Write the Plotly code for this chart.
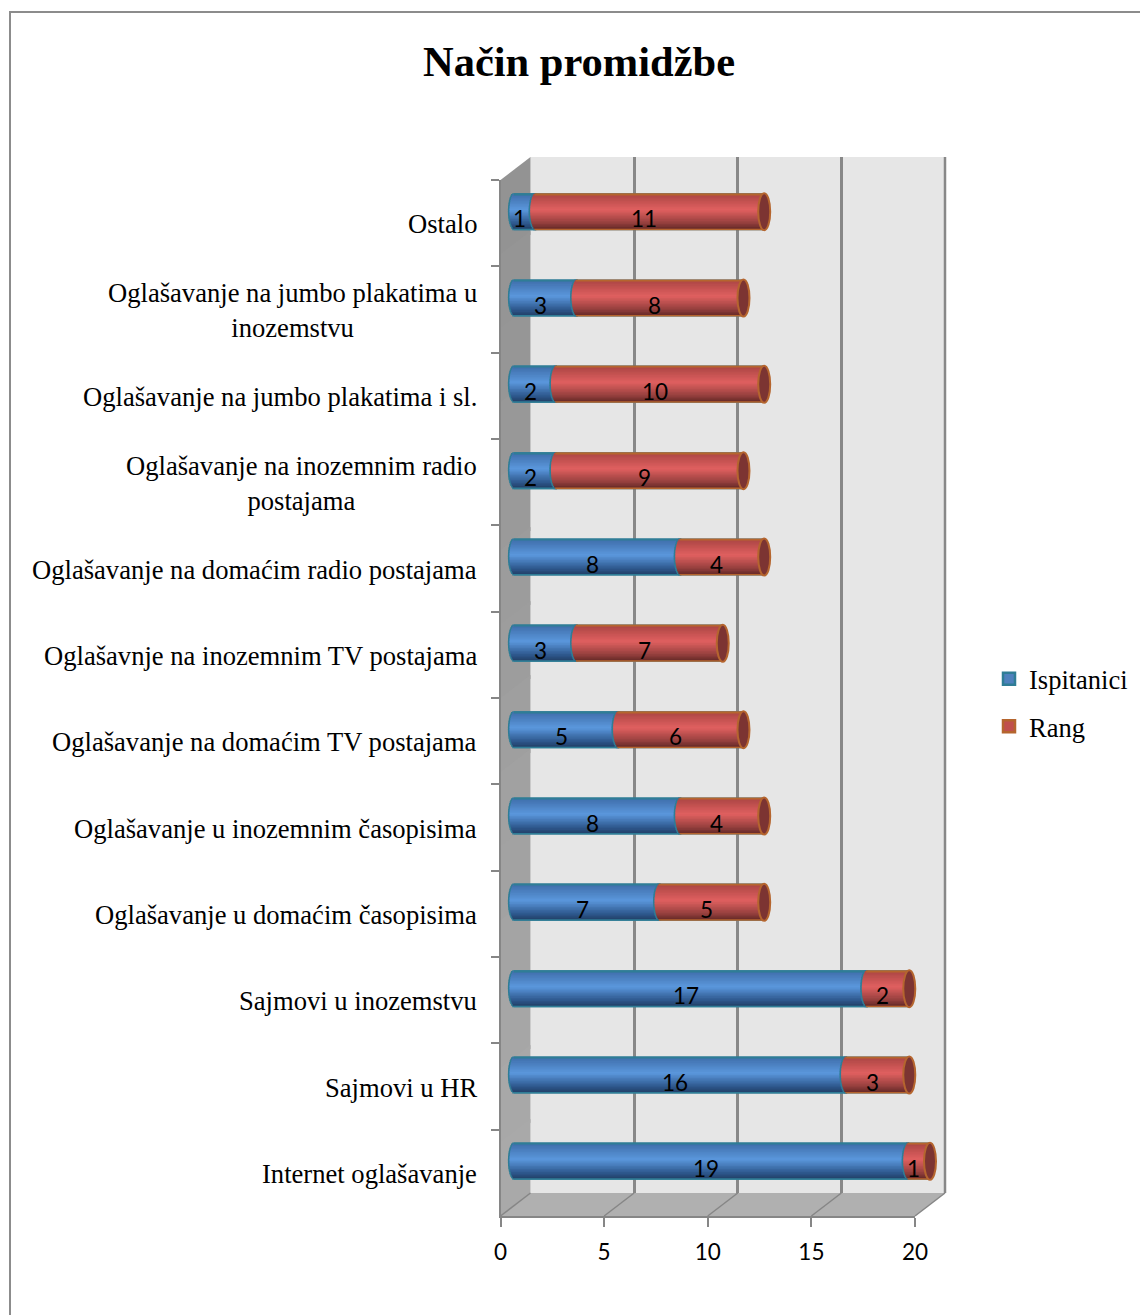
import plotly.graph_objects as go

categories = ["Internet oglašavanje", "Sajmovi u HR", "Sajmovi u inozemstvu",
              "Oglašavanje u domaćim časopisima", "Oglašavanje u inozemnim časopisima",
              "Oglašavanje na domaćim TV postajama", "Oglašavnje na inozemnim TV postajama",
              "Oglašavanje na domaćim radio postajama", "Oglašavanje na inozemnim radio<br>postajama",
              "Oglašavanje na jumbo plakatima i sl.", "Oglašavanje na jumbo plakatima u<br>inozemstvu",
              "Ostalo"]
ispitanici = [19, 16, 17, 7, 8, 5, 3, 8, 2, 2, 3, 1]
rang = [1, 3, 2, 5, 4, 6, 7, 4, 9, 10, 8, 11]
x_ticks = [0, 5, 10, 15, 20]

W, H = 1140, 1315
SERIF = "Liberation Serif"
SANS = "Lato"
AX_L, AX_R, AX_T, AX_B = 500.5, 915.0, 180.0, 1216.0
WALL_DX, WALL_DY = 30.0, -23.0
BAR_DX, BAR_DY = 15.0, -11.5
PX = (AX_R - AX_L) / 20
STEP = (AX_B - AX_T) / 12
BAR_H = 37 / STEP
CAP = 6 / PX
OUT = 1.6 / PX
N = 24
PAD = 2  # spare axis units round the bars so the rounded ends are not clipped
AXIS_GREY = "#868686"


def px(v):
    return v / W


def py(v):
    return 1 - v / H


def lerp(stops, t):
    for (a, ca), (b, cb) in zip(stops, stops[1:]):
        if t <= b:
            f = (t - a) / (b - a)
            c = [int(round(int(ca[i:i + 2], 16) * (1 - f) + int(cb[i:i + 2], 16) * f)) for i in (1, 3, 5)]
            return "#%02x%02x%02x" % tuple(c)
    return stops[-1][1]


BLUE = [(0, "#1f3a5f"), (0.2, "#2f5a90"), (0.55, "#5b97dc"), (1, "#3d6ca8")]
RED = [(0, "#5c2423"), (0.2, "#96403e"), (0.55, "#e06060"), (1, "#a84442")]
TEAL = "#2f7d96"
ORANGE = "#b5652e"

fig = go.Figure()

# empty traces so both helper subplots exist
fig.add_trace(go.Scatter(x=[], y=[], xaxis="x", yaxis="y", showlegend=False, hoverinfo="skip"))
fig.add_trace(go.Scatter(x=[], y=[], xaxis="x2", yaxis="y2", showlegend=False, hoverinfo="skip"))

totals = [a + b for a, b in zip(ispitanici, rang)]

# legend-bearing base bars
fig.add_trace(go.Bar(y=categories, x=ispitanici, base=[0] * 12, orientation="h", name="Ispitanici",
                     legendgroup="a", xaxis="x3", yaxis="y3", width=BAR_H * 0.9, offset=-BAR_H * 0.45,
                     marker=dict(color="#4f81bd", line=dict(color=TEAL, width=2.5)), hoverinfo="skip"))
fig.add_trace(go.Bar(y=categories, x=rang, base=ispitanici, orientation="h", name="Rang",
                     legendgroup="b", xaxis="x3", yaxis="y3", width=BAR_H * 0.9, offset=-BAR_H * 0.45,
                     marker=dict(color="#c0504d", line=dict(color=ORANGE, width=2.5)), hoverinfo="skip"))

sw = BAR_H / N


def strips(kind):
    for i in range(N):
        t = (i + 0.5) / N
        off = -BAR_H / 2 + i * sw
        bulge = CAP * (1 - (2 * t - 1) ** 2) ** 0.5
        edge = i == 0 or i == N - 1
        common = dict(y=categories, orientation="h", xaxis="x3", yaxis="y3", width=sw * 1.5, offset=off,
                      showlegend=False, hoverinfo="skip")
        if i == N - 1:
            common["width"] = sw
        if kind == "blue_out":
            xs, base, col = [v + bulge + OUT for v in ispitanici], [-bulge - OUT] * 12, TEAL
        elif kind == "blue":
            xs, base, col = [v + bulge for v in ispitanici], [-bulge] * 12, TEAL if edge else lerp(BLUE, t)
        elif kind == "red_out":
            xs, base, col = [r + bulge + OUT for r in rang], [v - bulge - OUT for v in ispitanici], TEAL
        else:
            xs, base, col = [r + bulge for r in rang], [v - bulge for v in ispitanici], ORANGE if edge else lerp(RED, t)
        fig.add_trace(go.Bar(x=xs, base=base, marker=dict(color=col, line=dict(width=0)), **common))


for kind in ("blue_out", "blue", "red_out", "red"):
    strips(kind)

shapes = []
# chart frame
shapes.append(dict(type="path", xref="paper", yref="paper", layer="below",
                   path=f"M{px(10)},{py(1315)} L{px(10)},{py(12)} L{px(1140)},{py(12)}",
                   line=dict(color="#8c8c8c", width=2)))
# back wall
shapes.append(dict(type="rect", xref="paper", yref="paper", layer="below",
                   x0=px(AX_L + WALL_DX), x1=px(AX_R + WALL_DX), y0=py(AX_B + WALL_DY), y1=py(AX_T + WALL_DY),
                   fillcolor="#e6e6e6", line=dict(width=0)))
# side wall, shaded top to bottom
BANDS = 14
for b in range(BANDS):
    f0, f1 = b / BANDS, (b + 1.05) / BANDS
    yl0, yl1 = AX_T + f0 * (AX_B - AX_T), AX_T + min(f1, 1) * (AX_B - AX_T)
    yr0, yr1 = yl0 + WALL_DY, yl1 + WALL_DY
    col = lerp([(0, "#939393"), (1, "#ababab")], f0)
    shapes.append(dict(type="path", xref="paper", yref="paper", layer="below",
                       path=(f"M{px(AX_L)},{py(yl0)} L{px(AX_L + WALL_DX)},{py(yr0)} "
                             f"L{px(AX_L + WALL_DX)},{py(yr1)} L{px(AX_L)},{py(yl1)} Z"),
                       fillcolor=col, line=dict(width=0)))
# floor
shapes.append(dict(type="path", xref="paper", yref="paper", layer="below",
                   path=(f"M{px(AX_L)},{py(AX_B)} L{px(AX_L + WALL_DX)},{py(AX_B + WALL_DY)} "
                         f"L{px(AX_R + WALL_DX)},{py(AX_B + WALL_DY)} L{px(AX_R)},{py(AX_B)} Z"),
                   fillcolor="#b0b0b0", line=dict(width=0)))
# floor grid lines
for v in x_ticks:
    xb = AX_L + v * PX
    shapes.append(dict(type="line", xref="paper", yref="paper", layer="below",
                       x0=px(xb), y0=py(AX_B), x1=px(xb + WALL_DX), y1=py(AX_B + WALL_DY),
                       line=dict(color=AXIS_GREY, width=1.5)))
# right edge of the back wall
shapes.append(dict(type="line", xref="paper", yref="paper", layer="below",
                   x0=px(AX_R + WALL_DX), y0=py(AX_B + WALL_DY), x1=px(AX_R + WALL_DX), y1=py(AX_T + WALL_DY),
                   line=dict(color="#888888", width=2.5)))
# bar ends
for i, tot in enumerate(totals):
    shapes.append(dict(type="circle", xref="x3", yref="y3", layer="above",
                       x0=tot - CAP, x1=tot + CAP, y0=i - BAR_H / 2, y1=i + BAR_H / 2,
                       fillcolor="#7c3432", line=dict(color=ORANGE, width=2)))

annotations = []
for i, name in enumerate(categories):
    annotations.append(dict(text=name, xref="paper", yref="y", x=px(479), y=i, xanchor="right", yanchor="middle",
                            yshift=-1, align="center", showarrow=False,
                            font=dict(family=SERIF, size=26.6, color="#000000")))
    a, b = ispitanici[i], rang[i]
    for val, mid in ((a, a / 2), (b, a + b / 2)):
        annotations.append(dict(text=str(val), xref="x3", yref="y3", x=mid, y=i, xanchor="center", yanchor="middle",
                                xshift=-6, yshift=-7, showarrow=False,
                                font=dict(family=SANS, size=22.5, color="#000000")))

fig.update_layout(
    width=W, height=H, margin=dict(l=0, r=0, t=0, b=0, pad=0, autoexpand=False),
    paper_bgcolor="#ffffff", plot_bgcolor="rgba(0,0,0,0)",
    barmode="overlay", shapes=shapes, annotations=annotations,
    title=dict(text="<b>Način promidžbe</b>", x=579 / W, xanchor="center", xref="paper",
               y=py(61), yanchor="middle", yref="paper", font=dict(family=SERIF, size=42.5, color="#000000")),
    legend=dict(x=px(989), xanchor="left", y=py(655), yanchor="top", bgcolor="rgba(0,0,0,0)",
                font=dict(family=SERIF, size=26.5, color="#000000"), tracegroupgap=10, itemwidth=30),
    xaxis=dict(domain=[px(AX_L), px(AX_R)], range=[0, 20], tickvals=x_ticks, ticks="outside", ticklen=9, tickwidth=2,
               tickcolor=AXIS_GREY, showline=True, linecolor=AXIS_GREY, linewidth=2, showgrid=False, zeroline=False,
               tickfont=dict(family=SANS, size=22.5, color="#000000"), ticklabelstandoff=6, anchor="y"),
    yaxis=dict(domain=[py(AX_B), py(AX_T)], type="category", categoryorder="array", categoryarray=categories,
               range=[-0.5, 11.5], tickmode="array", tickvals=categories, ticks="outside", tickson="boundaries",
               ticklen=8, tickwidth=2, tickcolor=AXIS_GREY, showline=True, linecolor=AXIS_GREY, linewidth=2,
               showticklabels=False, showgrid=False, zeroline=False, anchor="x"),
    xaxis2=dict(domain=[px(AX_L + WALL_DX), px(AX_R + WALL_DX)], range=[0, 20], tickvals=x_ticks, showgrid=True,
                gridcolor="#888888", gridwidth=2.5, showticklabels=False, ticks="", zeroline=False, showline=False,
                anchor="y2"),
    yaxis2=dict(domain=[py(AX_B + WALL_DY), py(AX_T + WALL_DY)], range=[0, 1], showgrid=False,
                showticklabels=False, ticks="", zeroline=False, showline=False, anchor="x2"),
    xaxis3=dict(domain=[px(AX_L + BAR_DX - PAD * PX), px(AX_R + BAR_DX + PAD * PX)], range=[-PAD, 20 + PAD],
                visible=False, anchor="y3"),
    yaxis3=dict(domain=[py(AX_B + BAR_DY), py(AX_T + BAR_DY)], type="category", categoryorder="array",
                categoryarray=categories, range=[-0.5, 11.5], visible=False, anchor="x3"),
)

fig.write_html("out.html", config=dict(displayModeBar=False),
               post_script="document.body.style.margin='0';document.body.style.overflow='hidden';")
